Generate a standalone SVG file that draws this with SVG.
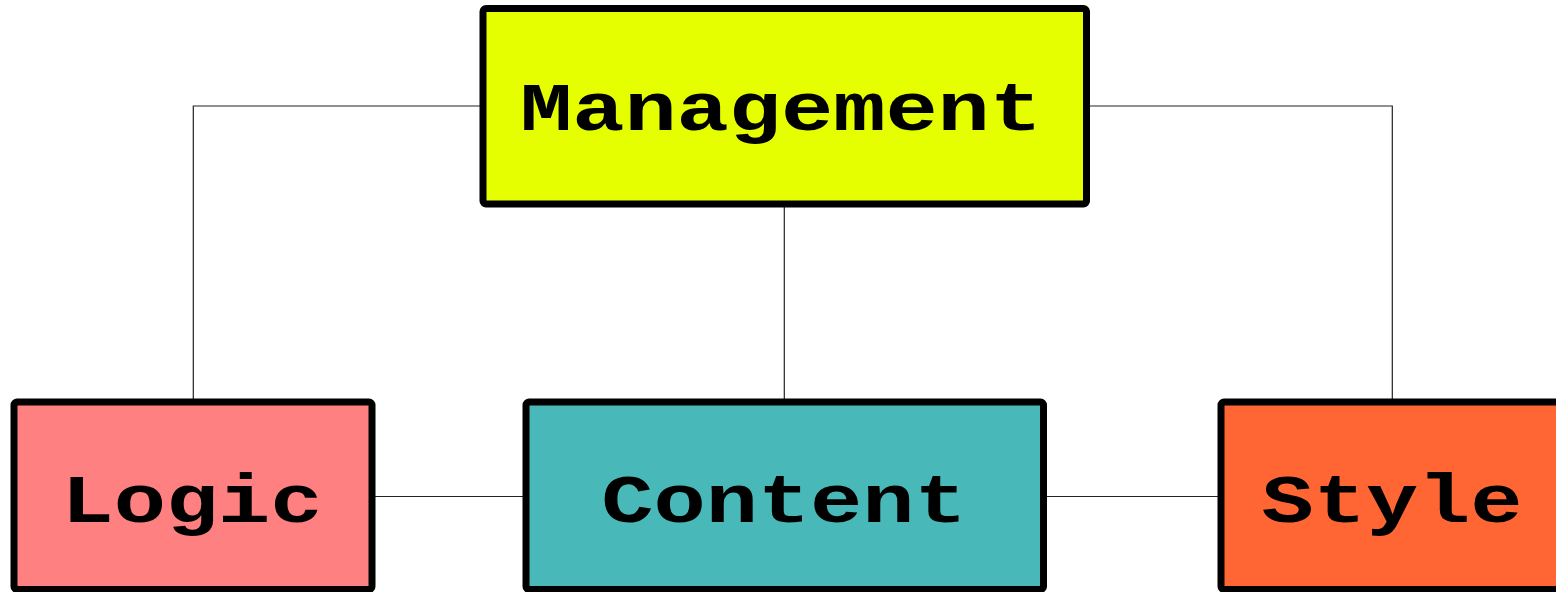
<svg xmlns="http://www.w3.org/2000/svg" width="1556" height="592" viewBox="0 0 1556 592">
<style>
.box{stroke:#000;stroke-width:7;stroke-linejoin:round}
.lbl{font-family:"Liberation Mono","Courier New",monospace;font-weight:bold;font-size:87px;fill:#000;text-anchor:middle}
.con{fill:none;stroke:#222;stroke-width:1.2}
</style>
<rect width="1556" height="592" fill="#fff"/>
<g id="connectors">
<polyline class="con" points="483,106 193.3,106 193.3,402"/>
<line class="con" x1="784.3" y1="204" x2="784.3" y2="402"/>
<polyline class="con" points="1086.5,106 1392.3,106 1392.3,402"/>
<line class="con" x1="372" y1="496.5" x2="526" y2="496.5"/>
<line class="con" x1="1043.5" y1="496.5" x2="1221" y2="496.5"/>
</g>
<g id="management">
<rect class="box" x="483" y="8.5" width="603.5" height="195.5" rx="3" fill="#e5ff00"/>
<text class="lbl" transform="translate(781,130) scale(1,0.78)">Management</text>
</g>
<g id="logic">
<rect class="box" x="14" y="402" width="358" height="187.5" rx="3" fill="#ff8080"/>
<text class="lbl" transform="translate(192,522) scale(1,0.78)">Logic</text>
</g>
<g id="content">
<rect class="box" x="526" y="402" width="517.5" height="187.5" rx="3" fill="#48b8b8"/>
<text class="lbl" transform="translate(784,522) scale(1,0.78)">Content</text>
</g>
<g id="style">
<rect class="box" x="1221" y="402" width="342" height="187.5" rx="3" fill="#ff6633"/>
<text class="lbl" transform="translate(1392,522) scale(1,0.78)">Style</text>
</g>
</svg>
